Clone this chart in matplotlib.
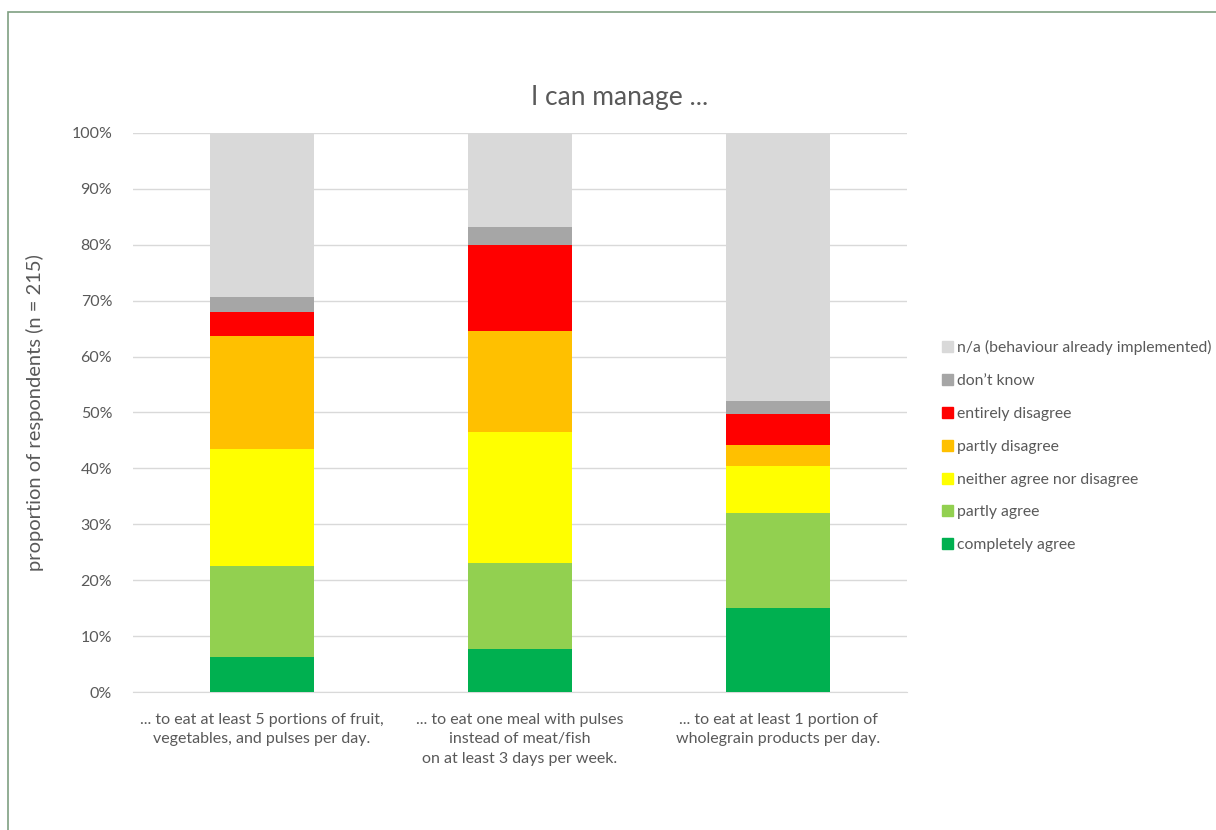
import matplotlib.pyplot as plt
from matplotlib.patches import Patch, Rectangle

plt.rcParams['font.family'] = ['Lato', 'DejaVu Sans']

# statements (x axis)
statements = ['... to eat at least 5 portions of fruit,\nvegetables, and pulses per day.',
              '... to eat one meal with pulses\ninstead of meat/fish\non at least 3 days per week.',
              '... to eat at least 1 portion of\nwholegrain products per day.']

# answer categories, bottom to top
answers = ['completely agree', 'partly agree', 'neither agree nor disagree',
           'partly disagree', 'entirely disagree', "don\u2019t know",
           'n/a (behaviour already implemented)']
colors = ['#00b050', '#92d050', '#ffff00', '#ffc000', '#ff0000', '#a6a6a6', '#d9d9d9']

# shares in percent per answer, one value per statement
completely_agree = [6.3, 7.7, 15.1]
partly_agree = [16.3, 15.4, 16.9]
neither = [20.9, 23.4, 8.4]
partly_disagree = [20.1, 18.1, 3.8]
entirely_disagree = [4.3, 15.4, 5.5]
dont_know = [2.8, 3.2, 2.3]
not_applicable = [29.3, 16.8, 48.0]

series = [completely_agree, partly_agree, neither, partly_disagree,
          entirely_disagree, dont_know, not_applicable]

fig = plt.figure(figsize=(12.16, 8.3), dpi=100)
ax = fig.add_axes([133 / 1216, 1 - 692 / 830, 774 / 1216, 559 / 830])

x = range(len(statements))
bottom = [0, 0, 0]
for vals, col, name in zip(series, colors, answers):
    ax.bar(x, vals, width=0.40, bottom=bottom, color=col, label=name, zorder=3)
    bottom = [b + v for b, v in zip(bottom, vals)]

ax.set_xlim(-0.5, 2.5)
ax.set_ylim(0, 100)
ax.set_yticks(range(0, 101, 10))
ax.set_yticklabels([f'{t}%' for t in range(0, 101, 10)])
ax.set_xticks(list(x))
ax.set_xticklabels(statements, linespacing=1.5, fontsize=12)
ax.grid(axis='y', color='#d9d9d9', linewidth=1, zorder=0)
for s in ['top', 'right', 'left']:
    ax.spines[s].set_visible(False)
ax.spines['bottom'].set_color('#d9d9d9')
ax.tick_params(axis='both', length=0, colors='#595959', labelsize=11.5)
ax.tick_params(axis='y', pad=15)
ax.tick_params(axis='x', pad=15)

ax.set_ylabel('proportion of respondents (n = 215)', fontsize=14.5, color='#595959', labelpad=20)
fig.text(620 / 1216, 1 - 97 / 830, 'I can manage ...', ha='center', va='center',
         fontsize=19, color='#595959')

handles = [Patch(color=c, label=a) for c, a in zip(colors, answers)][::-1]
fig.legend(handles=handles, loc='upper left', bbox_to_anchor=(928 / 1216, 1 - 326 / 830),
           frameon=False, fontsize=11.3, labelcolor='#595959', handlelength=0.7,
           handleheight=0.7, handletextpad=0.25, labelspacing=1.2)

# outer frame
fig.patches.append(Rectangle((8 / 1216, -0.1), 1.2, 1 - 12 / 830 + 0.1,
                             transform=fig.transFigure, fill=False,
                             edgecolor='#7f9f82', linewidth=1.2))

fig.savefig('out.png', dpi=100)
